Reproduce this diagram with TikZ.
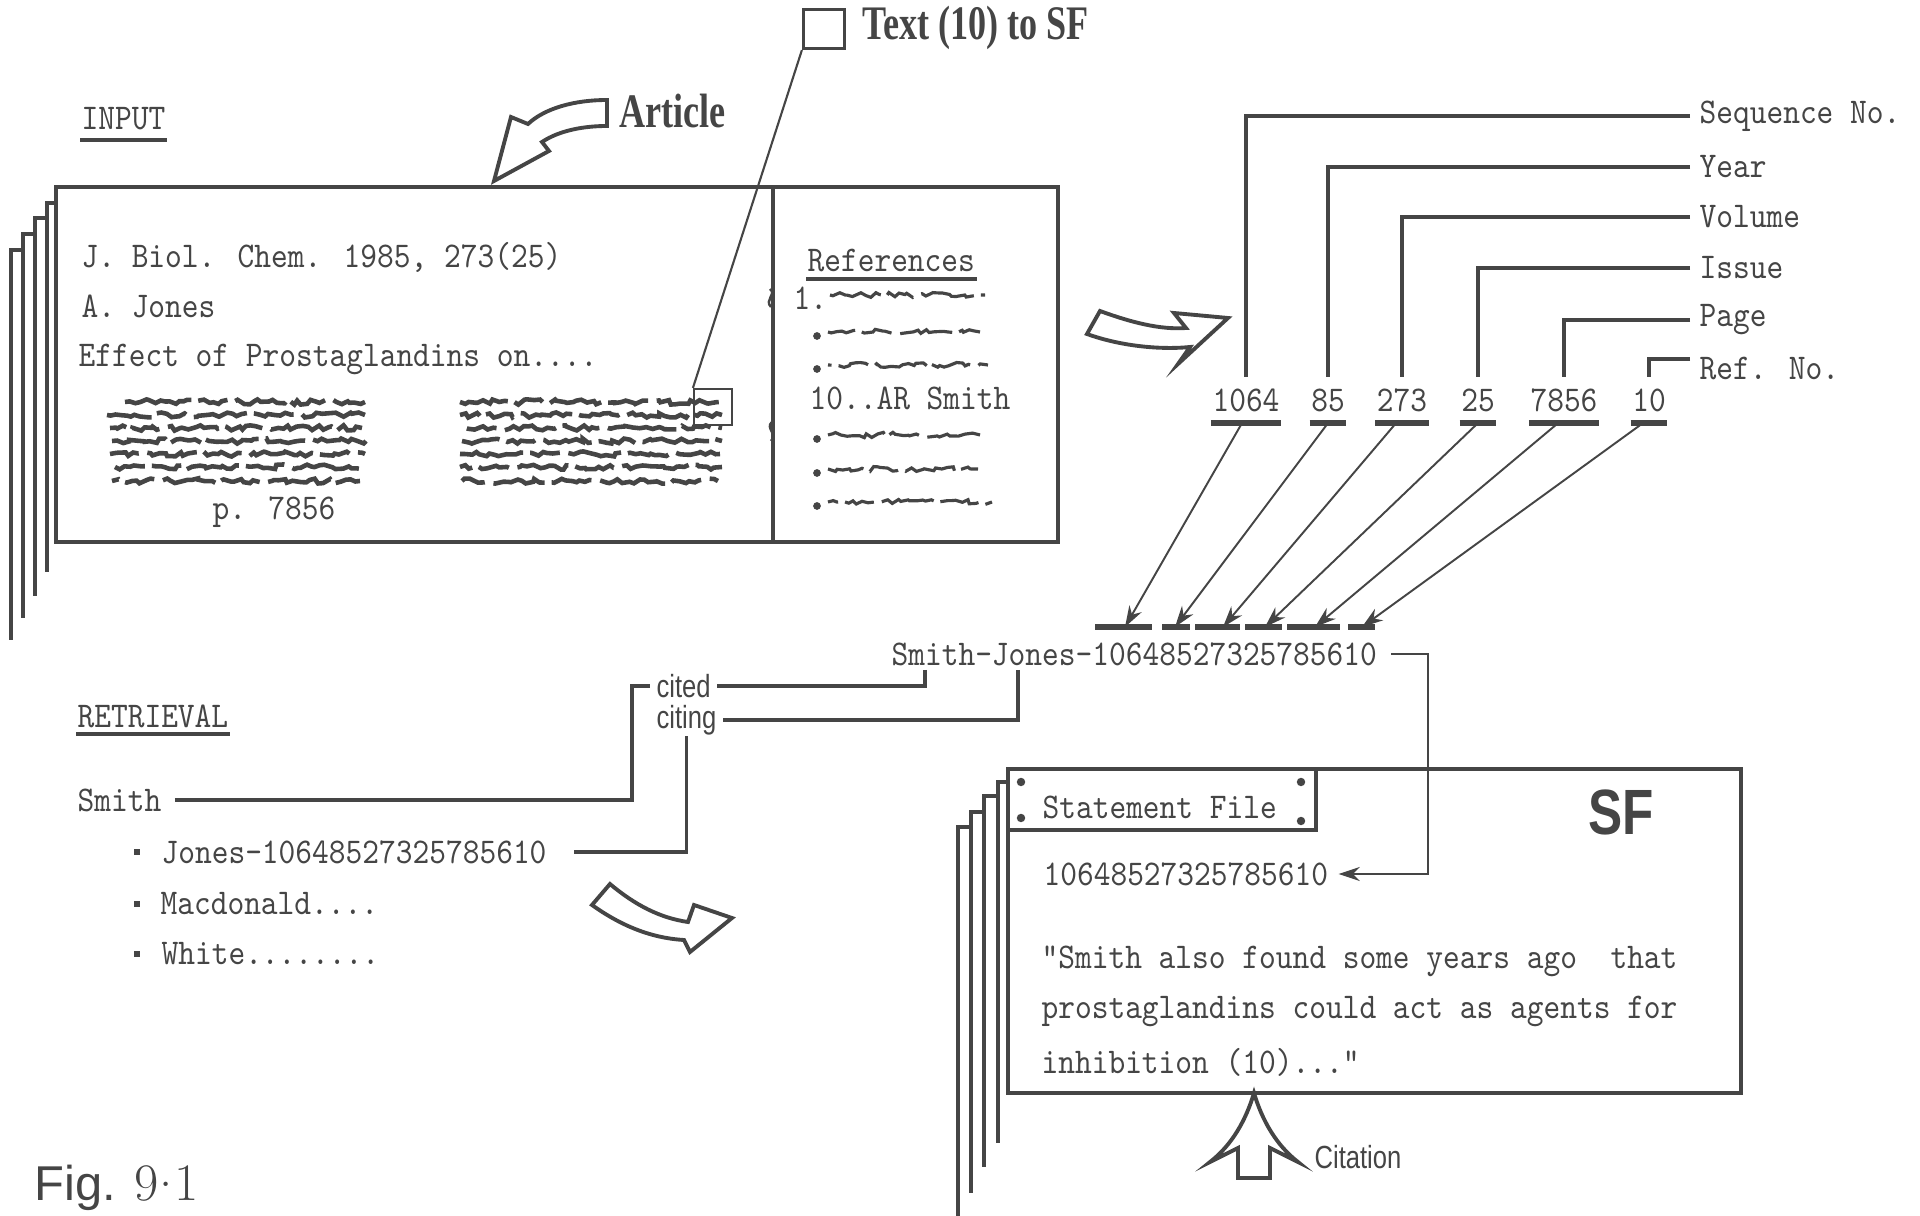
\documentclass[tikz,border=0pt]{standalone}
\usepackage{fontspec}
\usetikzlibrary{arrows.meta,decorations.pathmorphing}

\newfontfamily\typewriter[FakeStretch=0.88]{Latin Modern Mono}
\newfontfamily\condserif[FakeStretch=0.75]{Liberation Serif}
\newfontfamily\condsans[FakeStretch=0.8]{Liberation Sans}
\newfontfamily\plainsans{Liberation Sans}
\definecolor{ink}{HTML}{454545}

\begin{document}
\begin{tikzpicture}[x=0.01cm, y=-0.01cm, color=ink,
    font=\typewriter\fontsize{10.3}{12}\selectfont,
    testo/.style={inner sep=0pt, anchor=west},
    titolo/.style={font=\condserif\bfseries\fontsize{13.7}{15}\selectfont, inner sep=0pt, anchor=west},
    etichetta/.style={font=\condsans\fontsize{9.1}{10}\selectfont, inner xsep=0.05cm, inner ysep=0pt, anchor=west},
    campo/.style={inner xsep=0.08cm, inner ysep=0pt, anchor=west},
    numero/.style={inner xsep=0pt, inner ysep=0.1cm},
    barra/.style={line width=1.6pt},
    freccia/.style={line width=0.55pt, -{Stealth[length=6pt,width=4pt]}},
    freccione/.style={line width=1.1pt, fill=white, line join=miter},
    scarabocchio/.style={line width=1.3pt, decorate,
        decoration={random steps, segment length=1.4pt, amplitude=0.75pt},
        dash pattern=on 20pt off 2pt on 9pt off 2.5pt on 16pt off 2pt on 12pt off 2.5pt},
    rigasottile/.style={scarabocchio, line width=0.9pt}]

    % Stile globale per le linee
    \tikzstyle{every path}=[line width=0.9pt]
    \pgfmathsetseed{7}
    \useasboundingbox (0,0) rectangle (1920,1216);

    % Pila di fogli dietro l'articolo
    \draw (47,572) -- (47,203) -- (56,203);
    \draw (35,596) -- (35,218) -- (47,218);
    \draw (23,618) -- (23,234) -- (35,234);
    \draw (11,640) -- (11,250) -- (23,250);

    % Riquadro dell'articolo
    \draw[line width=1.2pt] (56,187) rectangle (1058,542);
    \draw (773,187) -- (773,542);

    % Titoli e freccia "Article"
    \node[testo] (input) at (80,119) {INPUT};
    \draw[line width=1pt] ([yshift=-0.08cm]input.south west) -- ([yshift=-0.08cm]input.south east);
    \node[titolo] (article) at (618,111) {Article};
    \draw[freccione] (607,100) .. controls (575,100) and (545,108) .. (528,124) -- (511,117) -- (494,181)
        -- (549,151) -- (542,142) .. controls (560,130) and (585,126) .. (607,126) -- cycle;

    % Testo dell'articolo
    \node[testo] (rivista) at (80,257) {J. Biol. Chem. 1985, 273(25)};
    \node[testo] (autore) at (80,306) {A. Jones};
    \node[testo] (titoloart) at (77,359) {Effect of Prostaglandins on....};
    \node[testo] (pagina) at (211,512) {p. 7856};

    % Colonne di testo illeggibile
    \draw[scarabocchio] (125,402) -- (365,402);
    \draw[scarabocchio, dash phase=7pt] (107,415) -- (365,415);
    \draw[scarabocchio, dash phase=15pt] (110,428) -- (362,428);
    \draw[scarabocchio, dash phase=3pt] (112,441) -- (366,441);
    \draw[scarabocchio, dash phase=22pt] (110,454) -- (365,454);
    \draw[scarabocchio, dash phase=11pt] (115,467) -- (365,467);
    \draw[scarabocchio, dash phase=18pt] (112,481) -- (360,481);
    \draw[scarabocchio, dash phase=5pt] (460,402) -- (720,402);
    \draw[scarabocchio, dash phase=13pt] (460,415) -- (722,415);
    \draw[scarabocchio, dash phase=20pt] (460,428) -- (722,428);
    \draw[scarabocchio, dash phase=9pt] (462,441) -- (722,441);
    \draw[scarabocchio, dash phase=1pt] (460,454) -- (720,454);
    \draw[scarabocchio, dash phase=16pt] (460,467) -- (722,467);
    \draw[scarabocchio, dash phase=24pt] (462,481) -- (718,481);

    % Riferimenti bibliografici
    \node[testo] (riferimenti) at (806,261) {References};
    \draw[line width=1pt] ([yshift=-0.05cm]riferimenti.south west) -- ([yshift=-0.05cm]riferimenti.south east);
    \node[testo] (rif1) at (792,298) {1.};
    \node[testo] (rif10) at (808,398) {10..AR Smith};
    \draw[rigasottile, dash phase=4pt] (830,295) -- (985,295);
    \draw[rigasottile, dash phase=12pt] (828,332) -- (980,332);
    \draw[rigasottile, dash phase=19pt] (828,365) -- (988,365);
    \draw[rigasottile, dash phase=2pt] (828,435) -- (980,435);
    \draw[rigasottile, dash phase=9pt] (828,469) -- (978,469);
    \draw[rigasottile, dash phase=17pt] (828,502) -- (992,502);
    \fill (817,336) circle (1.1pt);
    \fill (817,369) circle (1.1pt);
    \fill (817,439) circle (1.1pt);
    \fill (817,473) circle (1.1pt);
    \fill (817,506) circle (1.1pt);
    \draw[line width=0.7pt] (770,289) .. controls (777,294) and (764,300) .. (771,307);
    \draw[line width=0.7pt] (772,422) .. controls (765,428) and (778,434) .. (771,441);

    % Citazione scelta dal testo
    \node[draw, line width=0.9pt, minimum width=0.41cm, minimum height=0.39cm, inner sep=0pt] (casella) at (824,29) {};
    \node[titolo] (versosf) at (861,28) {Text (10) to SF};
    \node[draw, line width=0.6pt, minimum width=0.38cm, minimum height=0.36cm, inner sep=0pt] (segno) at (713,407) {};
    \draw[line width=0.6pt] (casella.south west) -- (segno.north west);

    % Freccia verso la chiave
    \draw[freccione] (1100,311) .. controls (1130,322) and (1160,330) .. (1186,328) -- (1174,313) -- (1228,318)
        -- (1178,364) -- (1190,347) .. controls (1160,350) and (1120,346) .. (1087,334) -- cycle;

    % Nomi dei campi
    \node[campo] (sequenza) at (1690,116) {Sequence No.};
    \node[campo] (anno) at (1690,167) {Year};
    \node[campo] (volume) at (1690,217) {Volume};
    \node[campo] (fascicolo) at (1690,268) {Issue};
    \node[campo] (pag) at (1690,320) {Page};
    \node[campo] (numrif) at (1690,369) {Ref. No.};

    % Valori dei campi
    \node[numero] (n1064) at (1246,400) {1064};
    \node[numero] (n85) at (1328,400) {85};
    \node[numero] (n273) at (1402,400) {273};
    \node[numero] (n25) at (1478,400) {25};
    \node[numero] (n7856) at (1564,400) {7856};
    \node[numero] (n10) at (1649,400) {10};

    \draw (sequenza.west) -| (n1064.north);
    \draw (anno.west) -| (n85.north);
    \draw (volume.west) -| (n273.north);
    \draw (fascicolo.west) -| (n25.north);
    \draw (pag.west) -| (n7856.north);
    \draw ([yshift=0.1cm]numrif.west) -| (n10.north);

    \draw[barra] (n1064.south west) -- (n1064.south east);
    \draw[barra] (n85.south west) -- (n85.south east);
    \draw[barra] (n273.south west) -- (n273.south east);
    \draw[barra] (n25.south west) -- (n25.south east);
    \draw[barra] (n7856.south west) -- (n7856.south east);
    \draw[barra] (n10.south west) -- (n10.south east);

    % Chiave composta
    \node[testo] (chiave) at (890,654) {Smith-Jones-10648527325785610};
    \draw[barra] (1095,627) -- (1152,627);
    \draw[barra] (1162,627) -- (1190,627);
    \draw[barra] (1195,627) -- (1240,627);
    \draw[barra] (1245,627) -- (1282,627);
    \draw[barra] (1287,627) -- (1340,627);
    \draw[barra] (1348,627) -- (1375,627);
    \coordinate (t1) at (1125,627);
    \coordinate (t2) at (1175,627);
    \coordinate (t3) at (1223,627);
    \coordinate (t4) at (1265,627);
    \coordinate (t5) at (1315,627);
    \coordinate (t6) at (1362,627);
    \draw[freccia] ([xshift=-0.04cm]n1064.south) -- (t1);
    \draw[freccia] (n85.south) -- (t2);
    \draw[freccia] ([xshift=-0.06cm]n273.south) -- (t3);
    \draw[freccia] (n25.south) -- (t4);
    \draw[freccia] ([xshift=-0.06cm]n7856.south) -- (t5);
    \draw[freccia] ([xshift=-0.06cm]n10.south) -- (t6);

    % cited / citing
    \node[etichetta] (citato) at (650,686) {cited};
    \node[etichetta] (citante) at (650,720) {citing};
    \coordinate (susmith) at (925,670);
    \coordinate (sujones) at (1018,670);
    \draw (susmith) |- (citato.east);
    \draw (sujones) |- (citante.east);

    % Ricerca
    \node[testo] (ricerca) at (76,716) {RETRIEVAL};
    \draw[line width=1.2pt] ([yshift=-0.05cm]ricerca.south west) -- ([yshift=-0.05cm]ricerca.south east);
    \node[testo] (smith) at (76,800) {Smith};
    \node[testo] (jonesr) at (160,852) {Jones-10648527325785610};
    \node[testo] (macdonald) at (159,904) {Macdonald....};
    \node[testo] (white) at (160,954) {White........};
    \fill (134,849) rectangle (140,855);
    \fill (134,901) rectangle (140,907);
    \fill (134,951) rectangle (140,957);
    \coordinate (piega) at (632,750);
    \draw ([xshift=0.12cm]smith.east) -| (piega) |- (citato.west);
    \draw (citante.south) |- ([xshift=0.26cm]jonesr.east);
    \draw[freccione] (610,884) .. controls (635,905) and (660,918) .. (688,922) -- (694,905) -- (732,918)
        -- (690,952) -- (684,940) .. controls (650,938) and (620,925) .. (592,905) -- cycle;

    % Pila di fogli del Statement File
    \draw (998,1143) -- (998,782) -- (1008,782);
    \draw (984,1167) -- (984,796) -- (998,796);
    \draw (971,1193) -- (971,812) -- (984,812);
    \draw (958,1230) -- (958,827) -- (971,827);

    % Riquadro SF
    \draw[line width=1.2pt] (1008,769) rectangle (1741,1093);
    \draw (1008,830) -- (1316,830) -- (1316,769);
    \fill (1021,782) circle (1.2pt);
    \fill (1021,818) circle (1.2pt);
    \fill (1301,782) circle (1.2pt);
    \fill (1301,821) circle (1.2pt);
    \node[testo] (statement) at (1041,807) {Statement File};
    \node[inner sep=0pt, font=\condsans\bfseries\fontsize{18.2}{20}\selectfont] (sf) at (1621,812) {SF};
    \node[testo] (chiavesf) at (1042,874) {10648527325785610};
    \node[testo] (frase1) at (1040,961) {"Smith also found some years ago\ \ that};
    \node[testo] (frase2) at (1040,1011) {prostaglandins could act as agents for};
    \node[testo] (frase3) at (1040,1062) {inhibition (10)..."};
    \coordinate (gomito) at (1428,874);
    \draw[freccia] ([xshift=0.13cm]chiave.east) -| (gomito) -- ([xshift=0.09cm]chiavesf.east);

    % Freccia "Citation"
    \draw[freccione] (1254,1093) .. controls (1246,1120) and (1232,1145) .. (1210,1162) -- (1238,1148)
        -- (1238,1178) -- (1270,1178) -- (1270,1148) -- (1298,1162) .. controls (1276,1145) and (1262,1120) .. cycle;
    \node[etichetta] (citazione) at (1308,1157) {Citation};

    % Didascalia
    \node[anchor=base west, inner sep=0pt, font=\plainsans\fontsize{13.9}{15}\selectfont] (figura) at (33,1201)
        {Fig. {\rmfamily\fontsize{15}{16}\selectfont 9\kern0.03em\raisebox{0.28em}{.}\kern0.03em 1}};

\end{tikzpicture}
\end{document}
